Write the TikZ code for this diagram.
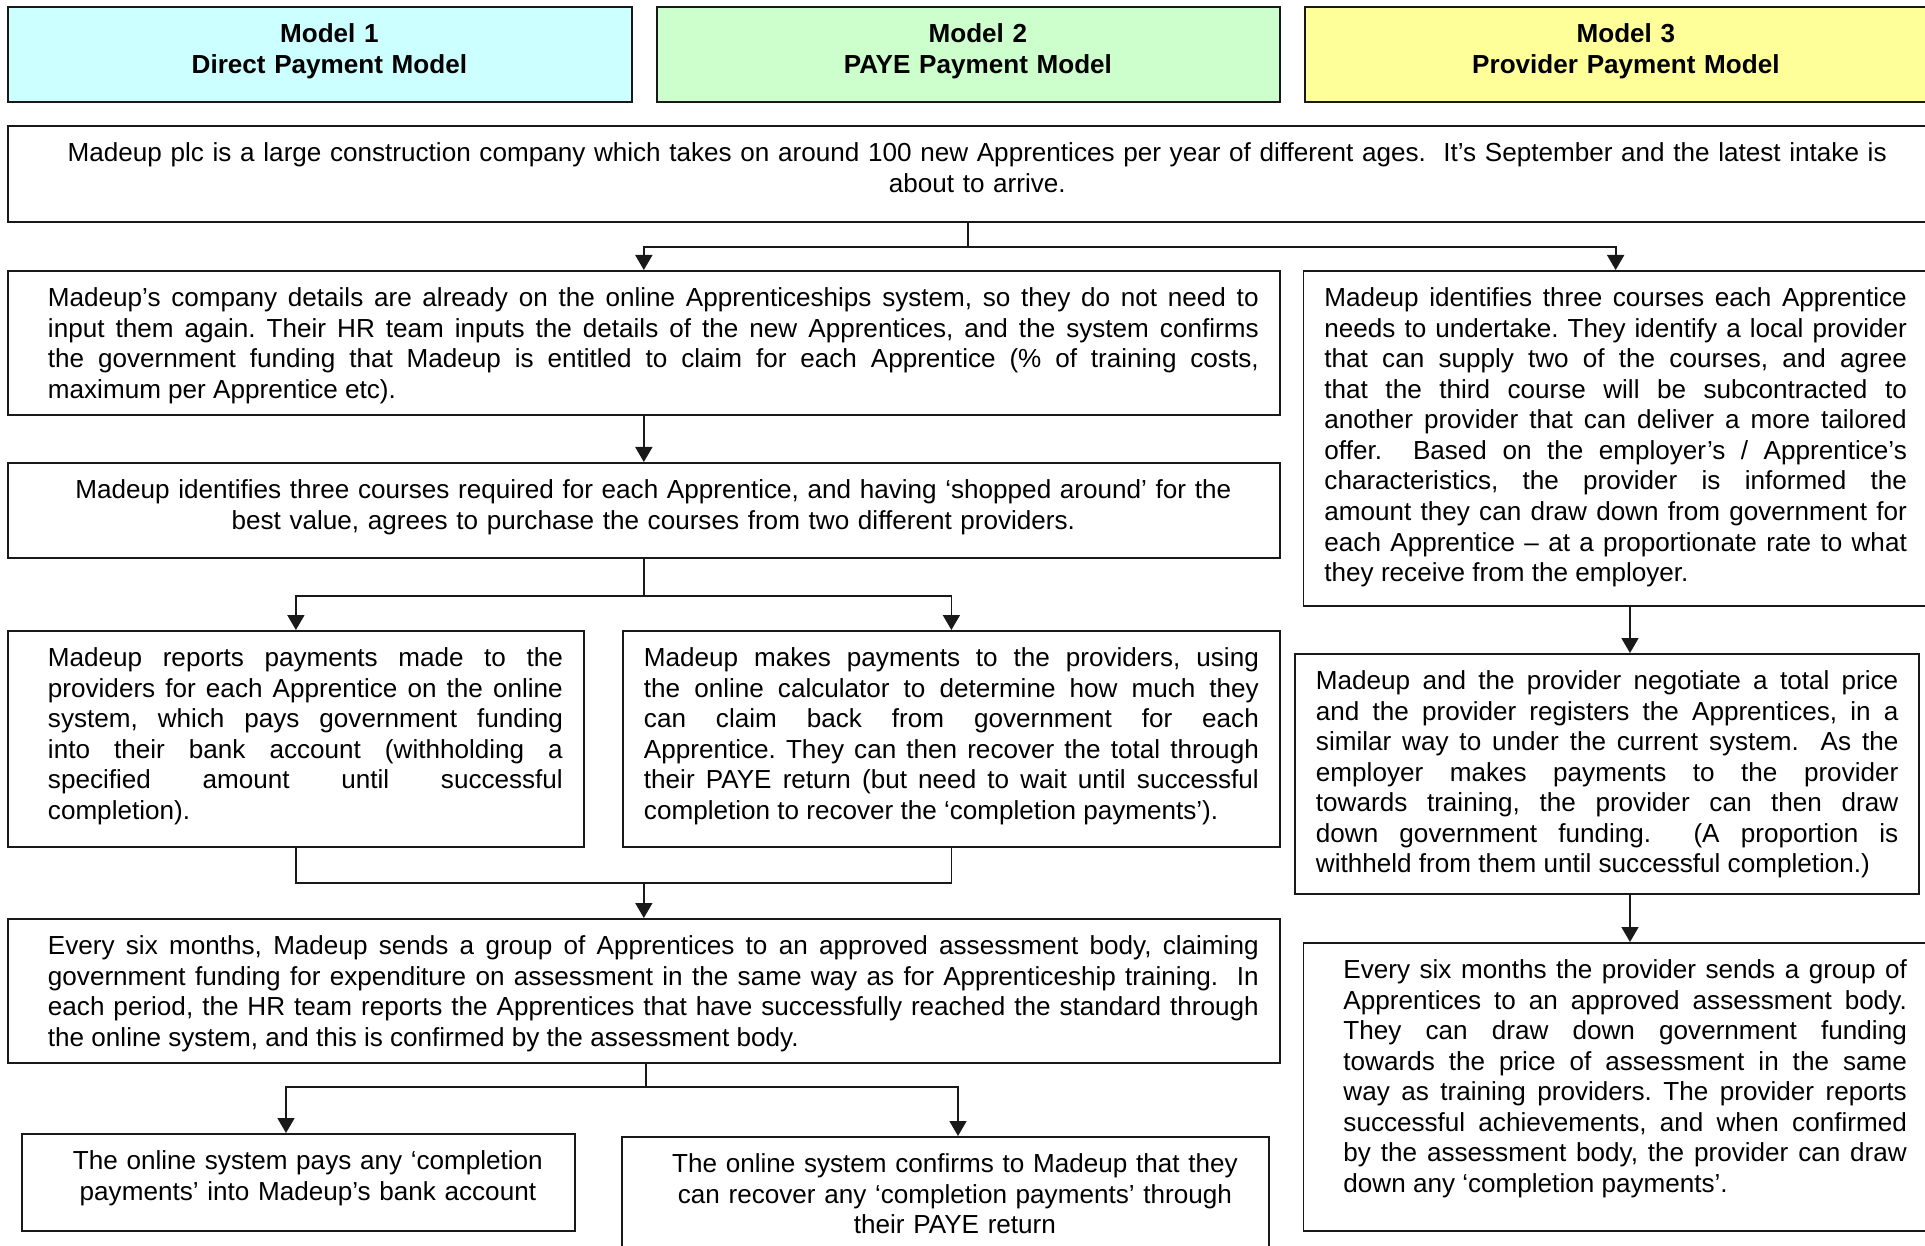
\documentclass[tikz,border=0pt]{standalone}
\usepackage{fontspec}
\setmainfont{Liberation Sans}
\usetikzlibrary{positioning,arrows.meta}
\definecolor{modelone}{HTML}{CCFFFF}
\definecolor{modeltwo}{HTML}{CCFFCC}
\definecolor{modelthree}{HTML}{FFFF99}
\newcommand{\boxfont}{\fontsize{14.85pt}{17.4pt}\selectfont}
\frenchspacing
\hyphenpenalty=10000

\begin{document}
\begin{tikzpicture}[x=0.02cm,y=-0.02cm,
 box/.style={draw=black!90,line width=1.1pt,anchor=north west,inner xsep=0.42cm,inner ysep=0pt,
  text height=0.71cm,text depth=#1,font=\boxfont,align=justify},
 box/.default=1.19cm,
 indented/.style={execute at begin node={\advance\leftskip by 0.38cm}},
 mid/.style={align=center},
 head/.style={box,indented,mid,font=\boxfont\bfseries},
 link/.style={draw=black!90,line width=1pt},
 arr/.style={link,-{Triangle[length=0.3cm,width=0.34cm]}}]
\clip (0,0) rectangle (1925,1246);
\fill[white] (0,0) rectangle (1925,1246);
% model headers
\node[head,fill=modelone,text width=11.64cm] (hdrone) at (7,6) {Model 1\\Direct Payment Model};
\node[head,fill=modeltwo,text width=11.62cm] (hdrtwo) at (656,6) {Model 2\\PAYE Payment Model};
\node[head,fill=modelthree,text width=11.62cm] (hdrthree) at (1304,6) {Model 3\\Provider Payment Model};
\node[box=1.21cm,indented,mid,text width=37.56cm] (intro) at (7,125)
 {Madeup plc is a large construction company which takes on around 100 new Apprentices per year of different ages.\ \ It’s September and the latest intake is\\about to arrive.};
% models 1 and 2
\node[box=2.17cm,indented,text width=24.6cm] (details) at (7,270)
 {Madeup’s company details are already on the online Apprenticeships system, so they do not need to\linebreak
 input them again. Their HR team inputs the details of the new Apprentices, and the system confirms\linebreak
 the government funding that Madeup is entitled to claim for each Apprentice (\% of training costs,\linebreak
 maximum per Apprentice etc).};
\node[box,indented,mid,text width=24.6cm] (courses) at (7,462)
 {Madeup identifies three courses required for each Apprentice, and having ‘shopped around’ for the\\
 best value, agrees to purchase the courses from two different providers.};
\node[box=3.61cm,indented,text width=10.68cm] (report) at (7,630)
 {Madeup reports payments made to the\linebreak
 providers for each Apprentice on the online\linebreak
 system, which pays government funding\linebreak
 into their bank account (withholding a\linebreak
 specified amount until successful\linebreak
 completion).};
\node[box=3.61cm,text width=12.3cm] (paye) at (622,630)
 {Madeup makes payments to the providers, using\linebreak
 the online calculator to determine how much they\linebreak
 can claim back from government for each\linebreak
 Apprentice. They can then recover the total through\linebreak
 their PAYE return (but need to wait until successful\linebreak
 completion to recover the ‘completion payments’).};
\node[box=2.17cm,indented,text width=24.6cm] (assess) at (7,918)
 {Every six months, Madeup sends a group of Apprentices to an approved assessment body, claiming\linebreak
 government funding for expenditure on assessment in the same way as for Apprenticeship training.\ \ In\linebreak
 each period, the HR team reports the Apprentices that have successfully reached the standard through\linebreak
 the online system, and this is confirmed by the assessment body.};
\node[box=1.23cm,indented,mid,text width=10.22cm] (paycomp) at (21,1133)
 {The online system pays any ‘completion\\payments’ into Madeup’s bank account};
\node[box=1.81cm,indented,mid,text width=12.1cm] (confirm) at (621,1136)
 {The online system confirms to Madeup that they\\can recover any ‘completion payments’ through\\their PAYE return};
% model 3
\node[box=6.0cm,text width=11.65cm] (provcourses) at (1302.5,270)
 {Madeup identifies three courses each Apprentice\linebreak
 needs to undertake. They identify a local provider\linebreak
 that can supply two of the courses, and agree\linebreak
 that the third course will be subcontracted to\linebreak
 another provider that can deliver a more tailored\linebreak
 offer.\ \ Based on the employer’s / Apprentice’s\linebreak
 characteristics, the provider is informed the\linebreak
 amount they can draw down from government for\linebreak
 each Apprentice – at a proportionate rate to what\linebreak
 they receive from the employer.};
\node[box=4.09cm,text width=11.65cm] (negotiate) at (1294,653)
 {Madeup and the provider negotiate a total price\linebreak
 and the provider registers the Apprentices, in a\linebreak
 similar way to under the current system.\ \ As the\linebreak
 employer makes payments to the provider\linebreak
 towards training, the provider can then draw\linebreak
 down government funding.\ \ (A proportion is\linebreak
 withheld from them until successful completion.)};
\node[box=5.05cm,indented,text width=11.65cm] (provassess) at (1302.5,942)
 {Every six months the provider sends a group of\linebreak
 Apprentices to an approved assessment body.\linebreak
 They can draw down government funding\linebreak
 towards the price of assessment in the same\linebreak
 way as training providers. The provider reports\linebreak
 successful achievements, and when confirmed\linebreak
 by the assessment body, the provider can draw\linebreak
 down any ‘completion payments’.};
% connectors
\coordinate (ex) at (646,0);
\coordinate (lx) at (286,0);
\coordinate (gx) at (958,0);
\coordinate (rx) at (1630,0);
\draw[link] (intro.south) -- ++(0,24) coordinate (split1);
\draw[arr] (split1) -| (details.north);
\draw[arr] (split1) -| (provcourses.north);
\draw[arr] (details) -- (courses);
\draw[link] (courses.south) -- ++(0,37) coordinate (split2);
\draw[arr] (split2) -| (report.north);
\draw[arr] (split2) -| (paye.north);
\draw[link] (report.south) -- ++(0,35) coordinate (join1) -| (paye.south);
\draw[arr] (join1 -| assess.north) -- (assess.north);
\draw[link] (assess.south -| ex) -- ++(0,23) coordinate (split3);
\draw[arr] (split3) -| (paycomp.north -| lx);
\draw[arr] (split3) -| (confirm.north -| gx);
\draw[arr] (provcourses.south -| rx) -- (negotiate.north -| rx);
\draw[arr] (negotiate.south -| rx) -- (provassess.north -| rx);
\end{tikzpicture}
\end{document}
